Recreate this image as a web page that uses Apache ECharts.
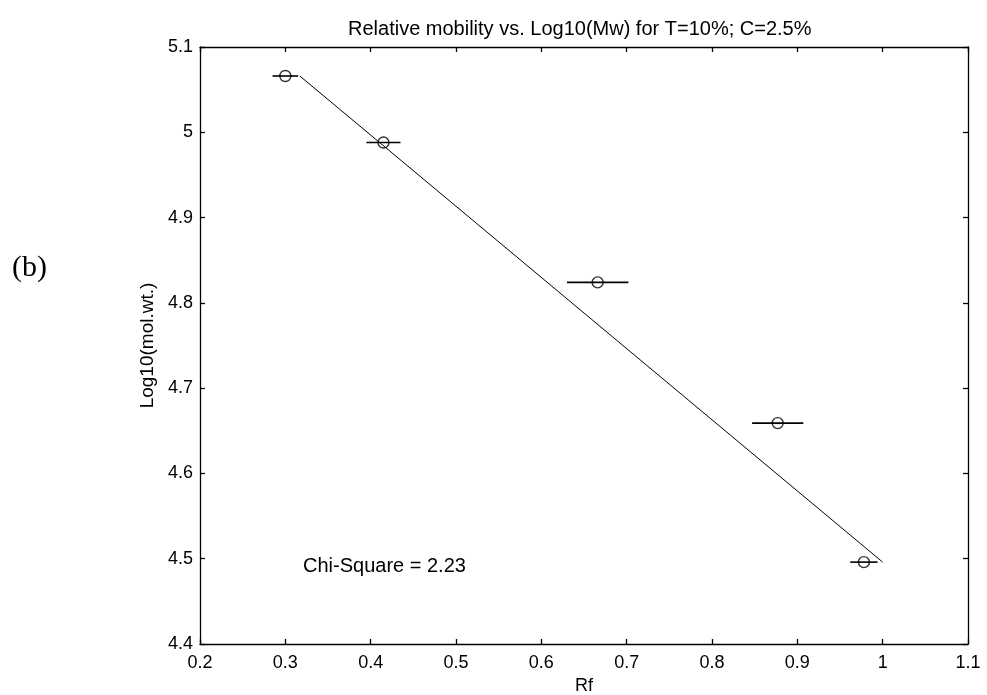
<!DOCTYPE html>
<html>
<head>
<meta charset="utf-8">
<script src="https://cdn.jsdelivr.net/npm/echarts@6/dist/echarts.min.js"></script>
<style>
html,body{margin:0;padding:0;background:#fff;}
#chart{width:987px;height:695px;}
</style>
</head>
<body>
<div id="chart"></div>
<script>
// ---- data ----
const rf      = [0.300, 0.415, 0.666, 0.877, 0.978];
const logMw   = [5.066, 4.988, 4.824, 4.659, 4.496];
const rfErr   = [0.015, 0.020, 0.036, 0.030, 0.016];
const fitRf   = [0.317, 1.000];
const fitLog  = [5.066, 4.496];
const xTicks  = ['0.2','0.3','0.4','0.5','0.6','0.7','0.8','0.9','1','1.1'];
const yTicks  = ['4.4','4.5','4.6','4.7','4.8','4.9','5','5.1'];
const titleText = 'Relative mobility vs. Log10(Mw) for T=10%; C=2.5%';
const chiText   = 'Chi-Square = 2.23';

const FONT = '"Liberation Sans", Arial, sans-serif';
const pts = rf.map((x, i) => [x, logMw[i], rfErr[i]]);
const fit = fitRf.map((x, i) => [x, fitLog[i]]);

const xLab = v => { const i = Math.round((v - 0.2) / 0.1); return xTicks[i] !== undefined ? xTicks[i] : ''; };
const yLab = v => { const i = Math.round((v - 4.4) / 0.1); return yTicks[i] !== undefined ? yTicks[i] : ''; };

const axisCommon = {
  type: 'value',
  axisLine: { show: true, onZero: false, lineStyle: { color: '#000', width: 1.3 } },
  axisTick: { show: true, inside: true, length: 5, lineStyle: { color: '#000', width: 1.3 } },
  splitLine: { show: false }
};

const chart = echarts.init(document.getElementById('chart'));
chart.setOption({
  backgroundColor: '#fff',
  animation: false,
  title: {
    text: titleText, left: 343, top: 14,
    textStyle: { fontFamily: FONT, fontSize: 20, fontWeight: 'normal', color: '#000' }
  },
  grid: { left: 200, right: 19, top: 47, bottom: 51, containLabel: false, outerBoundsMode: 'none' },
  xAxis: [
    Object.assign({}, axisCommon, {
      min: 0.2, max: 1.1, interval: 0.1, position: 'bottom',
      axisLabel: { formatter: xLab, color: '#000', fontFamily: FONT, fontSize: 18, margin: 10 },
      name: 'Rf', nameLocation: 'middle', nameGap: 32,
      nameTextStyle: { color: '#000', fontFamily: FONT, fontSize: 18 }
    }),
    Object.assign({}, axisCommon, {
      min: 0.2, max: 1.1, interval: 0.1, position: 'top',
      axisLabel: { show: false }
    })
  ],
  yAxis: [
    Object.assign({}, axisCommon, {
      min: 4.4, max: 5.1, interval: 0.1, position: 'left',
      axisLabel: { formatter: yLab, color: '#000', fontFamily: FONT, fontSize: 18, margin: 7 },
      name: 'Log10(mol.wt.)', nameLocation: 'middle', nameGap: 35,
      nameTextStyle: { color: '#000', fontFamily: FONT, fontSize: 19 }
    }),
    Object.assign({}, axisCommon, {
      min: 4.4, max: 5.1, interval: 0.1, position: 'right',
      axisLabel: { show: false }
    })
  ],
  graphic: [
    { type: 'text', left: 12, top: 253,
      style: { text: '(b)', font: '30px "Liberation Serif", "DejaVu Serif", serif', fill: '#000' } },
    { type: 'text', left: 303, top: 556,
      style: { text: chiText, font: '20px "Liberation Sans", Arial, sans-serif', fill: '#000' } }
  ],
  series: [
    {
      type: 'line', data: fit, symbol: 'none', silent: true,
      lineStyle: { color: '#000', width: 1 }
    },
    {
      type: 'custom', data: pts, silent: true,
      renderItem: function (params, api) {
        const x = api.value(0), y = api.value(1), e = api.value(2);
        const p1 = api.coord([x - e, y]);
        const p2 = api.coord([x + e, y]);
        return { type: 'line', shape: { x1: p1[0], y1: p1[1], x2: p2[0], y2: p2[1] },
                 style: { stroke: '#000', lineWidth: 1.6 } };
      }
    },
    {
      type: 'scatter', data: pts, symbol: 'circle', symbolSize: 11, silent: true,
      itemStyle: { color: 'rgba(0,0,0,0)', borderColor: '#000', borderWidth: 1.4 }
    }
  ]
});
</script>
</body>
</html>
